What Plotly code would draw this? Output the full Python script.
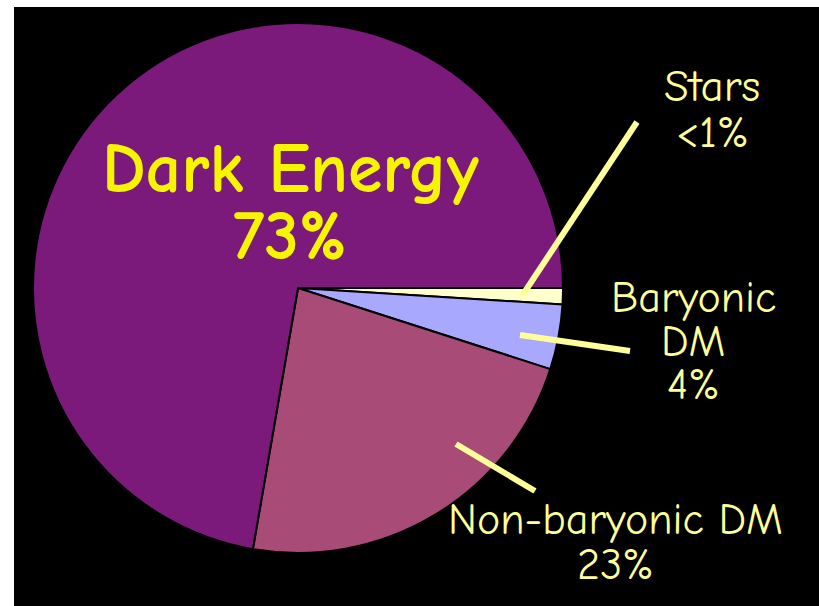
import plotly.graph_objects as go

# Composition of the universe
components = ["Stars", "Baryonic DM", "Non-baryonic DM", "Dark Energy"]
shares = [1, 4, 23, 73]
slice_colors = ["#FFFFCC", "#A8A8FF", "#A94B77", "#7B1A7B"]
share_text = ["<1%", "4%", "23%", "73%"]

W, H = 819, 606


def px(x):
    return x / W


def py(y):
    return 1 - y / H


fig = go.Figure(
    go.Pie(
        labels=components,
        values=shares,
        sort=False,
        direction="clockwise",
        rotation=90,
        marker=dict(colors=slice_colors, line=dict(color="black", width=2)),
        textinfo="none",
        hoverinfo="label+percent",
        showlegend=False,
        domain=dict(x=[px(33), px(563)], y=[py(553), py(23)]),
    )
)

font_family = "Comic Sans MS, Comic Neue, Noto Sans, sans-serif"
label_color = "#FFFF99"
title_color = "#F5F500"

# black panel behind the pie
shapes = [
    dict(type="rect", xref="paper", yref="paper", x0=px(14), x1=1, y0=0, y1=py(7),
         fillcolor="black", line=dict(width=0), layer="below"),
]

# leader lines from slices to their labels
leaders = [
    ((522, 296), (637, 122)),
    ((520, 335), (630, 351)),
    ((456, 444), (535, 491)),
]
for (x0, y0), (x1, y1) in leaders:
    shapes.append(dict(type="line", xref="paper", yref="paper",
                       x0=px(x0), y0=py(y0), x1=px(x1), y1=py(y1),
                       line=dict(color=label_color, width=6), layer="above"))

# one annotation per text line: (text, x, y, size, colour, bold)
text_lines = [
    ("Dark Energy", 290, 169, 70, title_color, True),
    (share_text[3], 290, 236, 70, title_color, True),
    ("Stars", 712, 86, 45, label_color, False),
    (share_text[0], 712, 132, 45, label_color, False),
    ("Baryonic", 693, 297, 44, label_color, False),
    ("DM", 693, 341, 44, label_color, False),
    (share_text[1], 693, 384, 44, label_color, False),
    ("Non-baryonic DM", 615, 519, 44, label_color, False),
    (share_text[2], 615, 564, 44, label_color, False),
]
annotations = []
for text, x, y, size, color, bold in text_lines:
    annotations.append(dict(
        x=px(x), y=py(y), xref="paper", yref="paper",
        text=f"<b>{text}</b>" if bold else text,
        showarrow=False, xanchor="center", yanchor="middle",
        font=dict(family=font_family, size=size, color=color),
    ))

fig.update_layout(
    width=W,
    height=H,
    margin=dict(l=0, r=0, t=0, b=0),
    paper_bgcolor="white",
    plot_bgcolor="white",
    shapes=shapes,
    annotations=annotations,
)

fig.write_html("out.html")
